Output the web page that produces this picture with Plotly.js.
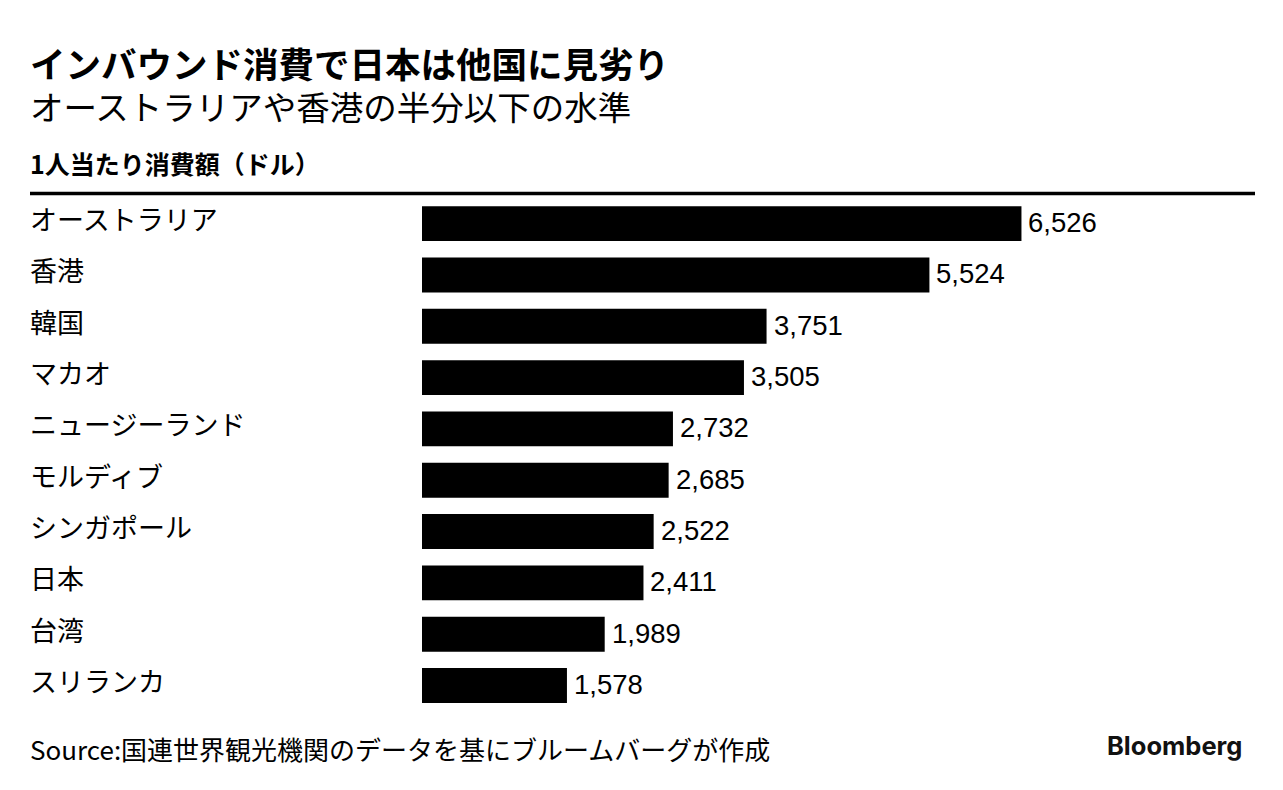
<!DOCTYPE html>
<html>
<head>
<meta charset="utf-8">
<script src="https://cdn.plot.ly/plotly-3.0.1.min.js"></script>
<style>html,body{margin:0;padding:0;background:#fff;}#chart{width:1283px;height:790px;}</style>
</head>
<body>
<div id="chart"></div>
<script>
const categories = ["オーストラリア","香港","韓国","マカオ","ニュージーランド","モルディブ","シンガポール","日本","台湾","スリランカ"];
const values = [6526, 5524, 3751, 3505, 2732, 2685, 2522, 2411, 1989, 1578];

const W = 1283, H = 790;
const M = {l: 422, r: 218, t: 198, b: 78};
const PW = W - M.l - M.r, PH = H - M.t - M.b;
const px = x => (x - M.l) / PW;
const py = y => (H - M.b - y) / PH;

const JP = "Noto Sans CJK JP, Noto Sans, sans-serif";
const annotations = [];

annotations.push({xref:'paper', yref:'paper', x:px(28), y:py(84), xanchor:'left', yanchor:'middle', align:'left',
  text:'<span style="font-size:35.5px"><b>インバウンド消費で日本は他国に見劣り</b></span><br><span style="font-size:33.5px">オーストラリアや香港の半分以下の水準</span>',
  showarrow:false, font:{family:JP, size:32.3, color:'#000'}});
annotations.push({xref:'paper', yref:'paper', x:px(28), y:py(163), xanchor:'left', yanchor:'middle',
  text:'<b>1人当たり消費額（ドル）</b>', showarrow:false, font:{family:JP, size:25, color:'#000'}});
annotations.push({xref:'paper', yref:'paper', x:px(28), y:py(748), xanchor:'left', yanchor:'middle',
  text:'Source:国連世界観光機関のデータを基にブルームバーグが作成', showarrow:false, font:{family:JP, size:26, color:'#000'}});
annotations.push({xref:'paper', yref:'paper', x:px(1244), y:py(745), xanchor:'right', yanchor:'middle',
  text:'<b>Bloomberg</b>', showarrow:false, font:{family:'Inter, Roboto, sans-serif', size:25.5, color:'#111'}});

categories.forEach((c, i) => {
  annotations.push({xref:'paper', yref:'y', x:px(28), y:c, xanchor:'left', yanchor:'middle', yshift:5,
    text:c, showarrow:false, font:{family:JP, size:27, color:'#000'}});
  annotations.push({xref:'x', yref:'y', x:values[i], y:c, xanchor:'left', yanchor:'middle', xshift:5, yshift:1,
    text:values[i].toLocaleString('en-US'), showarrow:false, font:{family:'Liberation Sans, Arial, sans-serif', size:27.5, color:'#000'}});
});

const trace = {
  type:'bar', orientation:'h', x:values, y:categories,
  marker:{color:'#000'}, width:0.68, hoverinfo:'skip'
};

const layout = {
  width:W, height:H, margin:M, paper_bgcolor:'#fff', plot_bgcolor:'#fff',
  showlegend:false,
  xaxis:{range:[0,7000], visible:false, fixedrange:true},
  yaxis:{type:'category', autorange:'reversed', showticklabels:false, showgrid:false, zeroline:false, showline:false, ticks:''},
  annotations:annotations,
  shapes:[{type:'line', xref:'paper', yref:'paper', x0:px(30), x1:px(1255), y0:py(193.5), y1:py(193.5), line:{color:'#000', width:3.5}}]
};

Plotly.newPlot('chart', [trace], layout, {displayModeBar:false, staticPlot:true});
</script>
</body>
</html>
